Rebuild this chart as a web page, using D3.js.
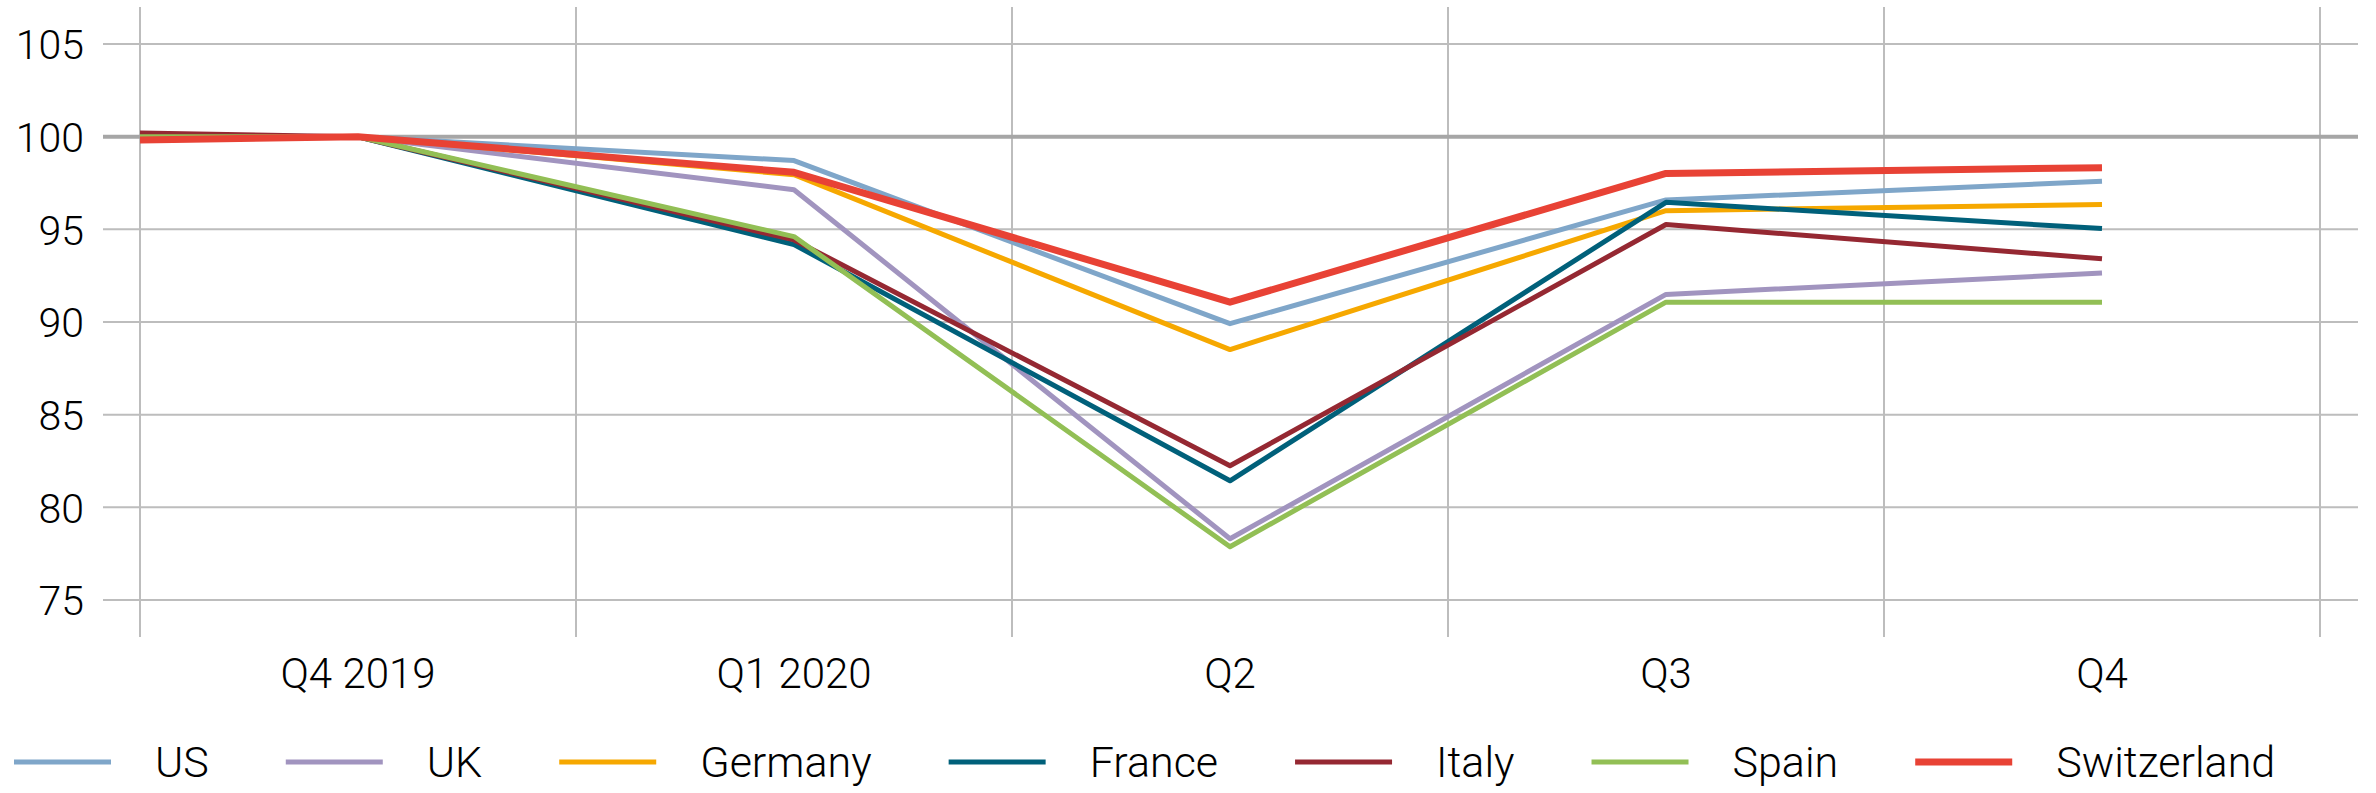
<!DOCTYPE html>
<html>
<head>
    <meta charset="utf-8">
    <title>GDP index</title>
    <script src="https://d3js.org/d3.v7.min.js"></script>
    <style>
        body { margin: 0; background: #fff; }
        text { font-family: Roboto, "Noto Sans", sans-serif; font-weight: 300; fill: #000; }
    </style>
</head>
<body>
<div id="chart"></div>
<script type="text/javascript">
    // quarters on the axis
    var quarters = ["Q4 2019", "Q1 2020", "Q2", "Q3", "Q4"];
    var yTicks = [75, 80, 85, 90, 95, 100, 105];

    // value where each line enters at the left edge, then one value per quarter
    var startValues = { US: 100.0, UK: 100.0, Germany: 100.0, France: 100.02, Italy: 100.2, Spain: 100.0, Switzerland: 99.82 };
    var usValues = [100, 98.71, 89.91, 96.59, 97.59];
    var ukValues = [100, 97.14, 78.30, 91.49, 92.64];
    var germanyValues = [100, 97.95, 88.51, 96.01, 96.34];
    var franceValues = [100, 94.18, 81.43, 96.46, 95.04];
    var italyValues = [100, 94.43, 82.24, 95.26, 93.41];
    var spainValues = [100, 94.61, 77.87, 91.07, 91.06];
    var switzerlandValues = [100, 98.08, 91.07, 98.02, 98.33];

    var series = [
        { name: "US", color: "#7fa6c9", width: 5, values: usValues },
        { name: "UK", color: "#a194bf", width: 5, values: ukValues },
        { name: "Germany", color: "#f6a800", width: 5, values: germanyValues },
        { name: "France", color: "#00607a", width: 5, values: franceValues },
        { name: "Italy", color: "#952832", width: 5, values: italyValues },
        { name: "Spain", color: "#92bf55", width: 5, values: spainValues },
        { name: "Switzerland", color: "#e84235", width: 7, values: switzerlandValues }
    ];

    var W = 2376, H = 793;
    var plot = { left: 140, right: 2320, top: 7, bottom: 637 };

    var svg = d3.select("#chart").append("svg")
        .attr("width", W)
        .attr("height", H);

    var x = d3.scaleBand().domain(quarters).range([plot.left, plot.right]);
    var y = d3.scaleLinear().domain([73, 107]).range([plot.bottom, plot.top]);

    drawGrid();
    drawAxes();
    drawLines();
    drawLegend();

    function drawGrid() {
        var g = svg.append("g");
        g.selectAll(".hgrid")
            .data(yTicks)
          .enter().append("line")
            .attr("class", "hgrid")
            .attr("x1", 103).attr("x2", 2358)
            .attr("y1", function(d) { return y(d); })
            .attr("y2", function(d) { return y(d); })
            .attr("stroke", function(d) { return d === 100 ? "#a6a6a6" : "#bdbdbd"; })
            .attr("stroke-width", function(d) { return d === 100 ? 4 : 2; });

        var edges = quarters.map(function(q) { return x(q); }).concat([plot.right]);
        g.selectAll(".vgrid")
            .data(edges)
          .enter().append("line")
            .attr("class", "vgrid")
            .attr("x1", function(d) { return d; }).attr("x2", function(d) { return d; })
            .attr("y1", plot.top).attr("y2", plot.bottom)
            .attr("stroke", "#bdbdbd")
            .attr("stroke-width", 2);

        // keep the 100 line above the vertical grid
        g.selectAll(".hgrid").filter(function(d) { return d === 100; }).raise();
    }

    function drawAxes() {
        var yAxis = svg.append("g")
            .attr("transform", "translate(103,0)")
            .call(d3.axisLeft(y).tickValues(yTicks).tickSize(0).tickPadding(19));
        yAxis.select(".domain").remove();
        yAxis.selectAll("text")
            .style("font-size", "41px")
            .style("font-family", "Roboto, sans-serif")
            .attr("dy", "0.36em");

        var xAxis = svg.append("g")
            .attr("transform", "translate(0," + plot.bottom + ")")
            .call(d3.axisBottom(x).tickSize(0).tickPadding(21));
        xAxis.select(".domain").remove();
        xAxis.selectAll("text")
            .style("font-size", "42px")
            .style("font-family", "Roboto, sans-serif");
    }

    function drawLines() {
        var line = d3.line()
            .x(function(d) { return d.x; })
            .y(function(d) { return y(d.v); });

        svg.append("g").selectAll(".series")
            .data(series)
          .enter().append("path")
            .attr("class", "series")
            .attr("fill", "none")
            .attr("stroke", function(s) { return s.color; })
            .attr("stroke-width", function(s) { return s.width; })
            .attr("stroke-linejoin", "round")
            .attr("d", function(s) {
                var pts = [{ x: plot.left, v: startValues[s.name] }];
                s.values.forEach(function(v, i) {
                    pts.push({ x: x(quarters[i]) + x.bandwidth() / 2, v: v });
                });
                return line(pts);
            });
    }

    function drawLegend() {
        var legend = svg.append("g").attr("transform", "translate(0,762)");
        var cx = 14;
        series.forEach(function(s) {
            legend.append("line")
                .attr("x1", cx).attr("x2", cx + 97)
                .attr("y1", 0).attr("y2", 0)
                .attr("stroke", s.color)
                .attr("stroke-width", s.width);
            cx += 97 + 44;
            var t = legend.append("text")
                .attr("x", cx)
                .attr("y", 15)
                .style("font-size", "43px")
                .text(s.name);
            cx += t.node().getComputedTextLength() + 77;
        });
    }
</script>
</body>
</html>
